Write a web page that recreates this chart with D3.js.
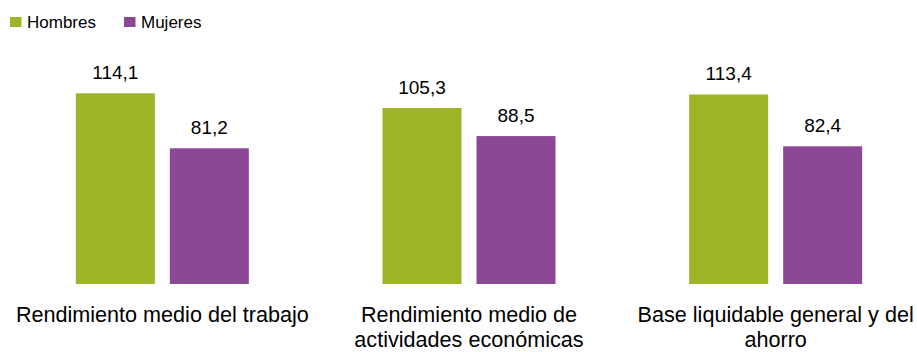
<!DOCTYPE html>
<html>
<head>
<meta charset="utf-8">
<script src="https://cdn.jsdelivr.net/npm/d3@7"></script>
<style>
  html, body { margin: 0; padding: 0; background: #fff; }
  svg { display: block; font-family: "Liberation Sans", Arial, sans-serif; }
</style>
</head>
<body>
<svg id="chart" width="917" height="352"></svg>
<script>
// Categories (label lines) and series values
const categories = [
  ["Rendimiento medio del trabajo"],
  ["Rendimiento medio de", "actividades económicas"],
  ["Base liquidable general y del", "ahorro"]
];
const seriesNames = ["Hombres", "Mujeres"];
const hombres = [114.1, 105.3, 113.4];
const mujeres = [81.2, 88.5, 82.4];
const colors = ["#9cb426", "#8b4894"];

const svg = d3.select("#chart");
const baseline = 284;

const catKeys = categories.map((c, i) => i);
const x0 = d3.scaleBand().domain(catKeys).range([9, 929]).paddingInner(0).paddingOuter(0);
const x1 = d3.scaleBand().domain(seriesNames).range([0, 173]).paddingInner(15 / 94).paddingOuter(0);
const y = d3.scaleLinear().domain([0, 114.1]).range([baseline, 93.3]);
const color = d3.scaleOrdinal().domain(seriesNames).range(colors);

const values = { Hombres: hombres, Mujeres: mujeres };
const fmt = v => d3.format(".1f")(v).replace(".", ",");

const groups = svg.selectAll("g.cat")
  .data(catKeys)
  .join("g")
  .attr("class", "cat")
  .attr("transform", i => `translate(${x0(i) + (x0.bandwidth() - 173) / 2},0)`);

groups.selectAll("rect")
  .data(i => seriesNames.map(s => ({ s, v: values[s][i] })))
  .join("rect")
  .attr("x", d => x1(d.s))
  .attr("y", d => y(d.v))
  .attr("width", x1.bandwidth())
  .attr("height", d => baseline - y(d.v))
  .attr("fill", d => color(d.s));

groups.selectAll("text.val")
  .data(i => seriesNames.map(s => ({ s, v: values[s][i] })))
  .join("text")
  .attr("class", "val")
  .attr("x", d => x1(d.s) + x1.bandwidth() / 2)
  .attr("y", d => y(d.v) - 14)
  .attr("text-anchor", "middle")
  .attr("font-size", 19)
  .attr("fill", "#000")
  .text(d => fmt(d.v));

// Category labels below the bars
const labels = svg.selectAll("text.cat")
  .data(catKeys)
  .join("text")
  .attr("class", "cat")
  .attr("text-anchor", "middle")
  .attr("font-size", 21.6)
  .attr("fill", "#000")
  .attr("x", i => x0(i) + x0.bandwidth() / 2)
  .attr("y", 322);
labels.selectAll("tspan")
  .data(i => categories[i].map((t, k) => ({ t, k, i })))
  .join("tspan")
  .attr("x", d => x0(d.i) + x0.bandwidth() / 2)
  .attr("dy", d => d.k === 0 ? 0 : 25)
  .text(d => d.t);

// Legend
const legendX = [10, 124];
const legend = svg.selectAll("g.legend")
  .data(seriesNames)
  .join("g")
  .attr("class", "legend")
  .attr("transform", (d, i) => `translate(${legendX[i]},17)`);
legend.append("rect")
  .attr("width", 11.5).attr("height", 10)
  .attr("fill", d => color(d));
legend.append("text")
  .attr("x", 17).attr("y", 10.5)
  .attr("font-size", 17)
  .attr("fill", "#000")
  .text(d => d);
</script>
</body>
</html>
